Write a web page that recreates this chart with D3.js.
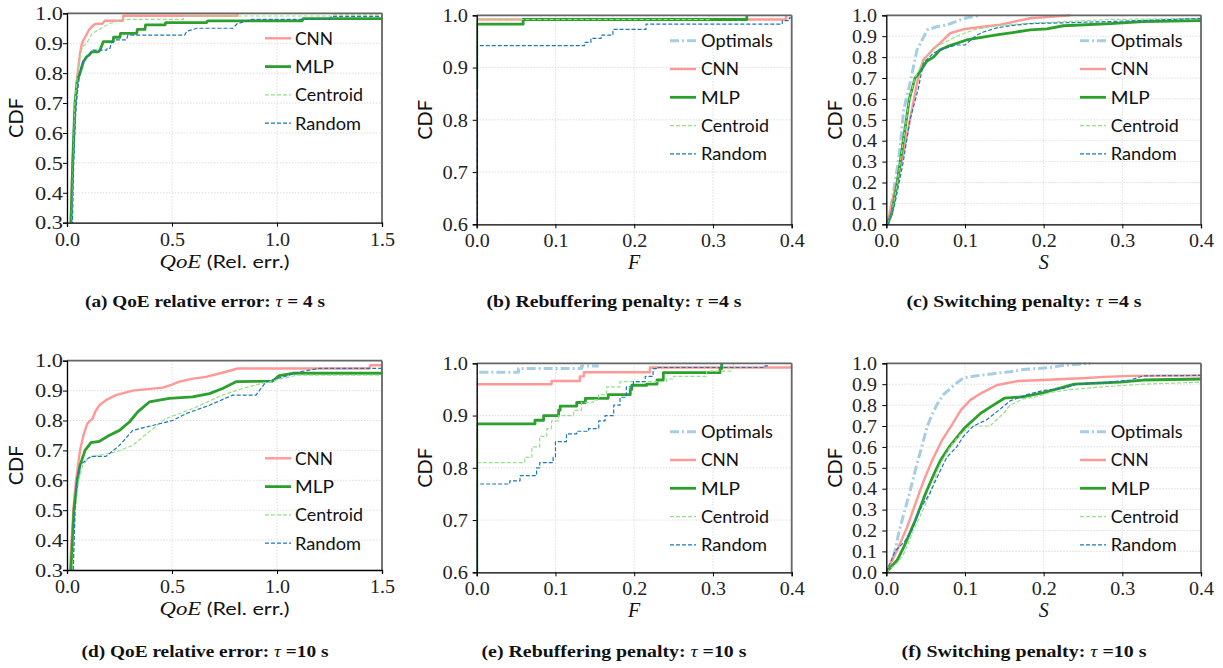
<!DOCTYPE html>
<html>
<head>
<meta charset="utf-8">
<script src="https://cdn.jsdelivr.net/npm/d3@7"></script>
<style>body{margin:0;background:#fff}</style>
</head>
<body>
<div id="caja"></div>
<script>
// series names, in legend / drawing order
var nombres = ["Optimals", "CNN", "MLP", "Centroid", "Random"];

// (a) QoE relative error, tau = 4 s   -> [x, CDF]
var a_cnn = [[0.015,0.25],[0.02,0.35],[0.027,0.5],[0.036,0.65],[0.046,0.76],[0.049,0.79],[0.056,0.83],[0.062,0.866],[0.07,0.895],[0.078,0.91],[0.09,0.925],[0.105,0.945],[0.118,0.955],[0.133,0.964],[0.17,0.966],[0.18,0.975],[0.265,0.975],[0.268,0.992],[0.81,0.992],[0.812,1.0]];
var a_mlp = [[0.016,0.25],[0.019,0.3],[0.027,0.5],[0.038,0.7],[0.049,0.777],[0.062,0.8],[0.078,0.838],[0.094,0.855],[0.105,0.86],[0.118,0.871],[0.149,0.871],[0.157,0.877],[0.173,0.905],[0.22,0.905],[0.222,0.92],[0.252,0.92],[0.255,0.933],[0.332,0.933],[0.335,0.946],[0.371,0.946],[0.374,0.961],[0.467,0.961],[0.47,0.969],[0.665,0.969],[0.67,0.975],[1.12,0.975],[1.125,0.982],[1.5,0.982]];
var a_cen = [[0.02,0.25],[0.024,0.3],[0.03,0.5],[0.038,0.7],[0.05,0.8],[0.058,0.835],[0.066,0.87],[0.075,0.888],[0.094,0.9],[0.12,0.933],[0.149,0.944],[0.175,0.955],[0.205,0.966],[0.268,0.98],[0.554,0.98],[0.556,0.991],[1.26,0.991],[1.262,0.995],[1.5,0.995]];
var a_ran = [[0.022,0.25],[0.026,0.3],[0.032,0.5],[0.04,0.65],[0.049,0.733],[0.062,0.805],[0.078,0.845],[0.094,0.855],[0.11,0.866],[0.124,0.877],[0.189,0.877],[0.191,0.883],[0.205,0.883],[0.21,0.9],[0.229,0.911],[0.284,0.911],[0.29,0.927],[0.56,0.927],[0.57,0.94],[0.62,0.95],[0.79,0.95],[0.81,0.965],[0.86,0.975],[0.87,0.98],[1.25,0.98],[1.26,0.99],[1.5,0.99]];

// (b) rebuffering penalty F, tau = 4 s (steps)
var b_opt = [[0,0.5],[0,1.0]];
var b_cnn = [[0,0.5],[0,0.992],[0.393,1.0]];
var b_mlp = [[0,0.86],[0,0.983],[0.059,0.992],[0.343,1.0]];
var b_cen = [[0,0.5],[0,0.992],[0.295,1.0]];
var b_ran = [[0,0.5],[0,0.942],[0.137,0.948],[0.145,0.956],[0.158,0.962],[0.173,0.973],[0.215,0.983],[0.388,0.99],[0.397,0.995],[0.4,0.995]];

// (c) switching penalty S, tau = 4 s
var c_opt = [[0.002,0],[0.0068,0.1],[0.011,0.2],[0.0153,0.3],[0.0185,0.4],[0.022,0.546],[0.031,0.69],[0.039,0.834],[0.052,0.93],[0.064,0.945],[0.077,0.954],[0.094,0.978],[0.105,0.99],[0.12,1.0]];
var c_cnn = [[0.0013,0],[0.0068,0.1],[0.0195,0.3],[0.0301,0.5],[0.0377,0.65],[0.0437,0.75],[0.047,0.786],[0.06,0.84],[0.068,0.866],[0.081,0.914],[0.098,0.933],[0.123,0.946],[0.145,0.955],[0.163,0.97],[0.183,0.986],[0.2,0.99],[0.234,1.0]];
var c_mlp = [[0.0013,0],[0.0068,0.05],[0.014,0.2],[0.0216,0.4],[0.0293,0.6],[0.0365,0.7],[0.043,0.73],[0.0513,0.78],[0.06,0.8],[0.068,0.834],[0.077,0.85],[0.102,0.882],[0.14,0.906],[0.165,0.92],[0.183,0.93],[0.204,0.935],[0.2252,0.95],[0.2846,0.96],[0.327,0.97],[0.4,0.975]];
var c_cen = [[0.0013,0],[0.0068,0.05],[0.014,0.2],[0.0216,0.4],[0.0293,0.6],[0.0365,0.7],[0.0428,0.75],[0.0513,0.8],[0.064,0.85],[0.0895,0.9],[0.1107,0.93],[0.1404,0.95],[0.1743,0.96],[0.2252,0.97],[0.2846,0.98],[0.4,0.985]];
var c_ran = [[0.0026,0],[0.011,0.1],[0.0216,0.3],[0.0301,0.5],[0.0407,0.65],[0.047,0.77],[0.06,0.82],[0.0725,0.84],[0.0895,0.858],[0.1,0.858],[0.115,0.905],[0.1234,0.92],[0.1404,0.94],[0.1573,0.95],[0.1828,0.96],[0.2846,0.97],[0.361,0.98],[0.4,0.985]];

// (d) QoE relative error, tau = 10 s
var d_cnn = [[0.01,0.2],[0.014,0.3],[0.03,0.5],[0.043,0.6],[0.062,0.7],[0.078,0.75],[0.097,0.79],[0.122,0.806],[0.135,0.83],[0.154,0.851],[0.19,0.87],[0.233,0.885],[0.313,0.9],[0.456,0.91],[0.5,0.92],[0.535,0.93],[0.6,0.94],[0.662,0.946],[0.757,0.963],[0.813,0.974],[1.44,0.974],[1.445,0.985],[1.5,0.985]];
var d_mlp = [[0.015,0.2],[0.019,0.3],[0.033,0.5],[0.049,0.6],[0.062,0.65],[0.086,0.7],[0.114,0.726],[0.154,0.73],[0.2,0.75],[0.25,0.767],[0.297,0.795],[0.337,0.829],[0.392,0.862],[0.487,0.874],[0.598,0.879],[0.678,0.89],[0.741,0.907],[0.805,0.93],[0.98,0.932],[1.01,0.95],[1.075,0.958],[1.5,0.958]];
var d_cen = [[0.025,0.2],[0.027,0.3],[0.04,0.5],[0.056,0.6],[0.075,0.65],[0.1,0.672],[0.114,0.678],[0.233,0.695],[0.313,0.717],[0.39,0.762],[0.47,0.806],[0.6,0.84],[0.74,0.885],[0.85,0.91],[0.963,0.93],[1.06,0.946],[1.1,0.952],[1.5,0.952]];
var d_ran = [[0.025,0.2],[0.03,0.3],[0.038,0.5],[0.046,0.6],[0.062,0.65],[0.094,0.67],[0.114,0.68],[0.186,0.68],[0.25,0.717],[0.313,0.767],[0.503,0.8],[0.567,0.823],[0.678,0.851],[0.79,0.885],[0.9,0.885],[0.948,0.93],[1.03,0.946],[1.11,0.963],[1.2,0.974],[1.5,0.974]];

// (e) rebuffering penalty F, tau = 10 s (steps)
var e_opt = [[0,0.5],[0,0.983],[0.053,0.99],[0.133,0.995],[0.155,0.995]];
var e_cnn = [[0,0.5],[0,0.96],[0.095,0.966],[0.131,0.975],[0.136,0.983],[0.22,0.992],[0.4,0.992]];
var e_mlp = [[0,0.5],[0,0.884],[0.074,0.891],[0.085,0.9],[0.104,0.91],[0.106,0.918],[0.127,0.925],[0.138,0.933],[0.167,0.94],[0.195,0.95],[0.197,0.958],[0.216,0.96],[0.229,0.968],[0.237,0.982],[0.309,0.99],[0.311,1.0]];
var e_cen = [[0,0.5],[0,0.81],[0.061,0.82],[0.07,0.84],[0.08,0.86],[0.089,0.875],[0.095,0.89],[0.104,0.9],[0.123,0.91],[0.133,0.925],[0.148,0.93],[0.155,0.94],[0.165,0.955],[0.182,0.965],[0.241,0.97],[0.25,0.975],[0.292,0.985],[0.322,0.99],[0.326,1.0]];
var e_ran = [[0,0.5],[0,0.769],[0.042,0.775],[0.055,0.785],[0.076,0.8],[0.08,0.81],[0.097,0.82],[0.1,0.85],[0.114,0.865],[0.127,0.87],[0.142,0.875],[0.155,0.89],[0.163,0.9],[0.174,0.92],[0.182,0.935],[0.19,0.955],[0.199,0.965],[0.214,0.975],[0.224,0.99],[0.228,0.992],[0.366,0.995],[0.37,1.0]];

// (f) switching penalty S, tau = 10 s
var f_opt = [[0,0],[0.0068,0.05],[0.011,0.1],[0.0165,0.2],[0.0238,0.3],[0.031,0.4],[0.0377,0.5],[0.045,0.6],[0.0522,0.7],[0.0577,0.75],[0.064,0.8],[0.0725,0.85],[0.0874,0.9],[0.098,0.93],[0.115,0.94],[0.136,0.95],[0.1573,0.96],[0.1743,0.97],[0.2082,0.98],[0.2252,0.99],[0.2591,1.0]];
var f_cnn = [[0,0],[0.013,0.1],[0.0267,0.218],[0.0416,0.378],[0.05,0.46],[0.0585,0.537],[0.071,0.633],[0.082,0.697],[0.095,0.777],[0.107,0.825],[0.12,0.856],[0.141,0.896],[0.167,0.915],[0.2,0.92],[0.2252,0.925],[0.2549,0.93],[0.2761,0.935],[0.31,0.94],[0.4,0.942]];
var f_mlp = [[0,0],[0.014,0.059],[0.0225,0.123],[0.037,0.25],[0.05,0.378],[0.061,0.474],[0.069,0.537],[0.08,0.6],[0.099,0.689],[0.12,0.761],[0.133,0.793],[0.15,0.833],[0.175,0.84],[0.2,0.86],[0.239,0.9],[0.2973,0.91],[0.327,0.92],[0.4,0.925]];
var f_cen = [[0,0],[0.0153,0.05],[0.0238,0.1],[0.0344,0.2],[0.047,0.3],[0.0577,0.4],[0.0662,0.5],[0.081,0.6],[0.0916,0.65],[0.1064,0.7],[0.1319,0.7],[0.1489,0.76],[0.1573,0.8],[0.1743,0.83],[0.1913,0.84],[0.2082,0.86],[0.2252,0.87],[0.2507,0.88],[0.2846,0.89],[0.327,0.9],[0.4,0.91]];
var f_ran = [[0,0],[0.011,0.1],[0.0238,0.15],[0.0322,0.2],[0.0428,0.3],[0.0556,0.38],[0.064,0.45],[0.0768,0.55],[0.0895,0.6],[0.098,0.65],[0.1107,0.7],[0.1277,0.73],[0.1446,0.78],[0.1573,0.82],[0.1785,0.85],[0.1997,0.87],[0.2252,0.88],[0.2422,0.9],[0.2846,0.91],[0.31,0.92],[0.327,0.94],[0.4,0.942]];

// ticks
var ticksQoE = [0, 0.5, 1.0, 1.5];
var ticksPen = [0, 0.1, 0.2, 0.3, 0.4];
var ticksY03 = [0.3, 0.4, 0.5, 0.6, 0.7, 0.8, 0.9, 1.0];
var ticksY06 = [0.6, 0.7, 0.8, 0.9, 1.0];
var ticksY00 = [0, 0.1, 0.2, 0.3, 0.4, 0.5, 0.6, 0.7, 0.8, 0.9, 1.0];

// captions: [bold part, tau, rest]
var cap_a = ["(a) QoE relative error: ", "\u03C4", " = 4 s"];
var cap_b = ["(b) Rebuffering penalty: ", "\u03C4", " =4 s"];
var cap_c = ["(c) Switching penalty: ", "\u03C4", " =4 s"];
var cap_d = ["(d) QoE relative error: ", "\u03C4", " =10 s"];
var cap_e = ["(e) Rebuffering penalty: ", "\u03C4", " =10 s"];
var cap_f = ["(f) Switching penalty: ", "\u03C4", " =10 s"];

var w = 1223, h = 668;

var colores = {Optimals: "#a6cee3", CNN: "#ff9896", MLP: "#2ca02c", Centroid: "#98df8a", Random: "#1f77b4"};
var estilos = {
	Optimals: {w: 3, dash: "9,3,2,3"},
	CNN: {w: 2.4, dash: null},
	MLP: {w: 2.8, dash: null},
	Centroid: {w: 1.2, dash: "4,2"},
	Random: {w: 1.2, dash: "4,2"}
};
var largoLeyenda = {Optimals: 72, CNN: 38, MLP: 39, Centroid: 68, Random: 66};

// layout of each sub-figure
var col = [
	{x0: 67, x1: 382, labEnd: 63, labLen: 28, cdfX: 23, capX: 205, legLine: 265, legText: 295},
	{x0: 476.7, x1: 791.7, labEnd: 468, labLen: 25.5, cdfX: 432, capX: 614, legLine: 670, legText: 701},
	{x0: 886.3, x1: 1201, labEnd: 877, labLen: 25, cdfX: 842, capX: 1024, legLine: 1080, legText: 1110.7}
];

var paneles = [
	{id: "a", c: col[0], y0: 13.3, y1: 222.7, xDom: [0, 1.5], yDom: [0.3, 1.0], xT: ticksQoE, yT: ticksY03, xl: "qoe", cap: cap_a, capY: 307, capLen: 240, step: false, legY: 38.3,
	 series: {CNN: a_cnn, MLP: a_mlp, Centroid: a_cen, Random: a_ran}},
	{id: "b", c: col[1], y0: 15.3, y1: 224.3, xDom: [0, 0.4], yDom: [0.6, 1.0], xT: ticksPen, yT: ticksY06, xl: "F", cap: cap_b, capY: 307, capLen: 255, step: true, legY: 40.7,
	 series: {Optimals: b_opt, CNN: b_cnn, MLP: b_mlp, Centroid: b_cen, Random: b_ran}},
	{id: "c", c: col[2], y0: 15.3, y1: 224.3, xDom: [0, 0.4], yDom: [0, 1.0], xT: ticksPen, yT: ticksY00, xl: "S", cap: cap_c, capY: 307, capLen: 235, step: false, legY: 40.7,
	 series: {Optimals: c_opt, CNN: c_cnn, MLP: c_mlp, Centroid: c_cen, Random: c_ran}},
	{id: "d", c: col[0], y0: 360.7, y1: 570, xDom: [0, 1.5], yDom: [0.3, 1.0], xT: ticksQoE, yT: ticksY03, xl: "qoe", cap: cap_d, capY: 656.5, capLen: 247, step: false, legY: 458.3,
	 series: {CNN: d_cnn, MLP: d_mlp, Centroid: d_cen, Random: d_ran}},
	{id: "e", c: col[1], y0: 363.3, y1: 572.3, xDom: [0, 0.4], yDom: [0.6, 1.0], xT: ticksPen, yT: ticksY06, xl: "F", cap: cap_e, capY: 656.5, capLen: 265, step: true, legY: 431.7,
	 series: {Optimals: e_opt, CNN: e_cnn, MLP: e_mlp, Centroid: e_cen, Random: e_ran}},
	{id: "f", c: col[2], y0: 363.3, y1: 572.3, xDom: [0, 0.4], yDom: [0, 1.0], xT: ticksPen, yT: ticksY00, xl: "S", cap: cap_f, capY: 656.5, capLen: 245, step: false, legY: 431.7,
	 series: {Optimals: f_opt, CNN: f_cnn, MLP: f_mlp, Centroid: f_cen, Random: f_ran}}
];

var svg = d3.select("#caja").append("svg")
	.attr("width", w)
	.attr("height", h)
	.style("background", "#fff");

var serif = "'Liberation Serif', 'DejaVu Serif', serif";
var sans = "Lato, 'DejaVu Sans', sans-serif";

paneles.forEach(function(p) {
	var c = p.c;
	var g = svg.append("g").attr("class", "panel-" + p.id);
	var x = d3.scaleLinear().domain(p.xDom).range([c.x0, c.x1]);
	var y = d3.scaleLinear().domain(p.yDom).range([p.y1, p.y0]);

	// dotted grid
	g.append("g").selectAll("line").data(p.yT).enter().append("line")
		.attr("x1", c.x0).attr("x2", c.x1)
		.attr("y1", function(d) { return y(d); })
		.attr("y2", function(d) { return y(d); })
		.attr("stroke", "#d4d4d4").attr("stroke-width", 0.8).attr("stroke-dasharray", "1.5,1.5");
	g.append("g").selectAll("line").data(p.xT).enter().append("line")
		.attr("y1", p.y0).attr("y2", p.y1)
		.attr("x1", function(d) { return x(d); })
		.attr("x2", function(d) { return x(d); })
		.attr("stroke", "#d4d4d4").attr("stroke-width", 0.8).attr("stroke-dasharray", "1.5,1.5");

	// clip to plot area
	var cid = "clip-" + p.id;
	svg.append("clipPath").attr("id", cid).append("rect")
		.attr("x", c.x0).attr("y", p.y0 - 2)
		.attr("width", c.x1 - c.x0).attr("height", p.y1 - p.y0 + 2);

	var linea = d3.line()
		.x(function(d) { return x(d[0]); })
		.y(function(d) { return y(d[1]); })
		.curve(p.step ? d3.curveStepAfter : d3.curveLinear);

	nombres.forEach(function(n) {
		if (!p.series[n]) return;
		g.append("path")
			.attr("clip-path", "url(#" + cid + ")")
			.attr("d", linea(p.series[n]))
			.attr("fill", "none")
			.attr("stroke", colores[n])
			.attr("stroke-width", estilos[n].w)
			.attr("stroke-dasharray", estilos[n].dash)
			.attr("stroke-linejoin", "round");
	});

	// spines: top/right grey, left/bottom black
	g.append("line").attr("x1", c.x0).attr("x2", c.x1).attr("y1", p.y0).attr("y2", p.y0)
		.attr("stroke", "#666").attr("stroke-width", 1.8);
	g.append("line").attr("x1", c.x1).attr("x2", c.x1).attr("y1", p.y0).attr("y2", p.y1)
		.attr("stroke", "#666").attr("stroke-width", 1.8);

	var axY = g.append("g").attr("transform", "translate(" + c.x0 + ",0)")
		.call(d3.axisLeft(y).tickValues(p.yT).tickFormat(d3.format(".1f")).tickSize(4).tickPadding(c.x0 - c.labEnd - 4));
	var axX = g.append("g").attr("transform", "translate(0," + p.y1 + ")")
		.call(d3.axisBottom(x).tickValues(p.xT).tickFormat(d3.format(".1f")).tickSize(4));
	[axY, axX].forEach(function(ax) {
		ax.select(".domain").attr("stroke", "#000").attr("stroke-width", 1.3);
		ax.selectAll(".tick line").attr("stroke", "#000").attr("stroke-width", 1);
		ax.selectAll("text")
			.attr("font-family", serif)
			.attr("font-size", "18.5px")
			.attr("fill", "#222")
			.attr("lengthAdjust", "spacingAndGlyphs");
	});
	axY.selectAll("text").attr("textLength", c.labLen).attr("dy", "0.34em");
	axX.selectAll("text").attr("textLength", 25).attr("y", 23).attr("dy", 0);

	// y title
	g.append("text")
		.attr("transform", "translate(" + c.cdfX + "," + ((p.y0 + p.y1) / 2) + ") rotate(-90)")
		.attr("text-anchor", "middle")
		.attr("font-family", sans)
		.attr("font-size", "20px")
		.attr("fill", "#111")
		.text("CDF");

	// x title
	var xt = g.append("text")
		.attr("x", (c.x0 + c.x1) / 2)
		.attr("y", p.y1 + 45)
		.attr("text-anchor", "middle")
		.attr("fill", "#111");
	if (p.xl === "qoe") {
		xt.attr("textLength", 130).attr("lengthAdjust", "spacingAndGlyphs");
		xt.append("tspan").attr("font-family", serif).attr("font-style", "italic").attr("font-size", "19px").text("QoE");
		xt.append("tspan").attr("font-family", sans).attr("font-size", "18px").text(" (Rel. err.)");
	} else {
		xt.append("tspan").attr("font-family", serif).attr("font-style", "italic").attr("font-size", "20px").text(p.xl);
	}

	// legend
	var leg = g.append("g");
	var fila = 0;
	nombres.forEach(function(n) {
		if (!p.series[n]) return;
		var yy = p.legY + fila * 28.3;
		leg.append("line")
			.attr("x1", c.legLine).attr("x2", c.legLine + 26)
			.attr("y1", yy).attr("y2", yy)
			.attr("stroke", colores[n])
			.attr("stroke-width", estilos[n].w)
			.attr("stroke-dasharray", estilos[n].dash);
		leg.append("text")
			.attr("x", c.legText).attr("y", yy + 6.3)
			.attr("font-family", sans)
			.attr("font-size", "18px")
			.attr("fill", "#111")
			.attr("textLength", largoLeyenda[n])
			.attr("lengthAdjust", "spacingAndGlyphs")
			.text(n);
		fila++;
	});

	// caption
	var cap = svg.append("text")
		.attr("x", c.capX).attr("y", p.capY)
		.attr("text-anchor", "middle")
		.attr("font-family", serif)
		.attr("font-size", "17.5px")
		.attr("fill", "#111")
		.attr("textLength", p.capLen)
		.attr("lengthAdjust", "spacingAndGlyphs");
	cap.append("tspan").attr("font-weight", "bold").text(p.cap[0]);
	cap.append("tspan").attr("font-style", "italic").text(p.cap[1]);
	cap.append("tspan").attr("font-weight", "bold").text(p.cap[2]);
});
</script>
</body>
</html>
